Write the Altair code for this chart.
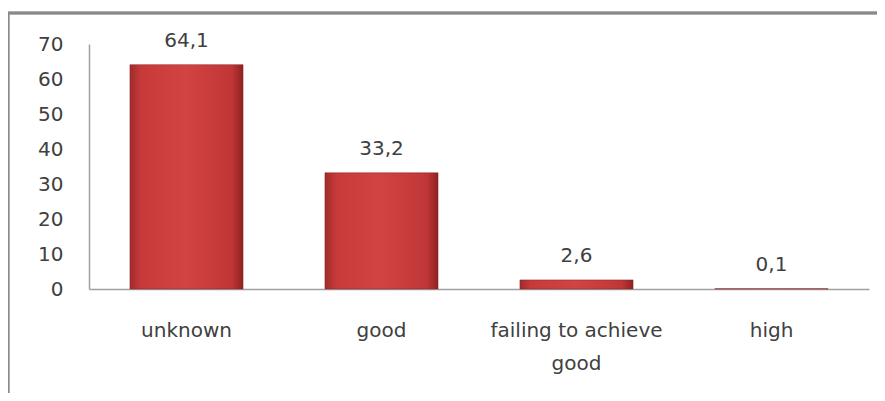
import altair as alt
import pandas as pd

categories = ["unknown", "good", "failing to achieve good", "high"]
values = [64.1, 33.2, 2.6, 0.1]
value_labels = ["64,1", "33,2", "2,6", "0,1"]
y_ticks = [0, 10, 20, 30, 40, 50, 60, 70]

df = pd.DataFrame({"cat": categories, "val": values, "lbl": value_labels})

FONT = "DejaVu Sans"
FS = 20
TXT = "#404040"

grad = alt.Gradient(
    gradient="linear",
    x1=0, x2=1, y1=0, y2=0,
    stops=[
        alt.GradientStop(color="#a02c2c", offset=0),
        alt.GradientStop(color="#c83a3a", offset=0.1),
        alt.GradientStop(color="#d24343", offset=0.5),
        alt.GradientStop(color="#c03636", offset=0.9),
        alt.GradientStop(color="#8e2222", offset=1),
    ],
)

x_enc = alt.X(
    "cat:N",
    sort=categories,
    scale=alt.Scale(paddingInner=0.42, paddingOuter=0.21),
    axis=alt.Axis(
        title=None,
        labelAngle=0,
        ticks=False,
        domainColor="#a0a0a0",
        domainWidth=1.5,
        labelFont=FONT,
        labelFontSize=FS,
        labelColor=TXT,
        labelPadding=31,
        labelLineHeight=33,
        labelExpr="datum.label == 'failing to achieve good' ? ['failing to achieve', 'good'] : datum.label",
    ),
)

y_enc = alt.Y(
    "val:Q",
    scale=alt.Scale(domain=[0, 70], nice=False),
    axis=alt.Axis(
        title=None,
        values=y_ticks,
        grid=False,
        ticks=False,
        labelOverlap=False,
        domainColor="#a0a0a0",
        domainWidth=1.5,
        labelFont=FONT,
        labelFontSize=FS,
        labelColor=TXT,
        labelPadding=26,
    ),
)

bars = alt.Chart(df).mark_bar(color=grad, stroke="#8a2020", strokeWidth=0.5).encode(x=x_enc, y=y_enc)

texts = alt.Chart(df).mark_text(
    dy=-18, baseline="alphabetic", font=FONT, fontSize=FS, color=TXT
).encode(x=x_enc, y=y_enc, text="lbl:N")

frame = alt.Chart(df).mark_rect(
    fill=None, stroke="#8a8a8a", strokeWidth=2.5, clip=False
).encode(
    x=alt.value(-81), x2=alt.value(900),
    y=alt.value(-31), y2=alt.value(420),
)

chart = alt.layer(frame, bars, texts).properties(
    width=780, height=245,
    padding={"left": 81, "top": 36, "right": 8, "bottom": 104},
    autosize="none",
    background="white",
).configure_view(stroke="transparent", strokeWidth=0)

chart.save("out.html", embed_options={"renderer": "svg", "actions": False})
